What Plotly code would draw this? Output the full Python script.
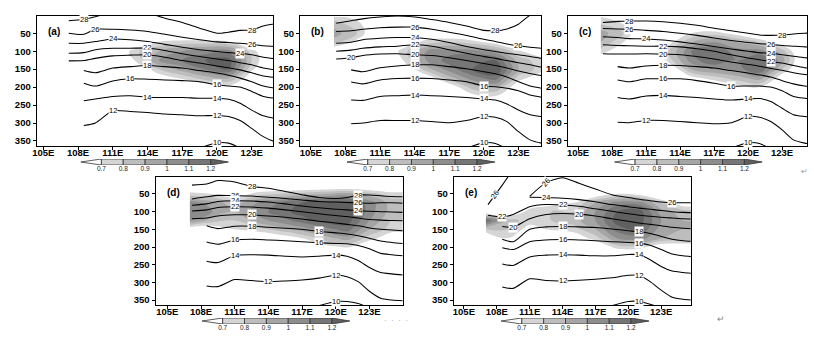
import plotly.graph_objects as go

W, H = 814, 342
FONT = "Liberation Sans"

# ---------------- data ----------------
LON = [107.2, 108.5, 109.5, 111, 112.5, 114, 115.5, 117, 118.5, 120, 121, 122, 123, 124, 125, 126]

X_TICKS = [105, 108, 111, 114, 117, 120, 123]
X_TICK_TEXT = ["105E", "108E", "111E", "114E", "117E", "120E", "123E"]
Y_TICKS = [50, 100, 150, 200, 250, 300, 350]
Y_TICK_TEXT = ["50", "100", "150", "200", "250", "300", "350"]

SHADE_LEVELS = [0.7, 0.8, 0.9, 1.0, 1.1, 1.2]
SHADE_LEVEL_TEXT = ["0.7", "0.8", "0.9", "1", "1.1", "1.2"]
SHADE_COLORS = ["#ffffff", "#d5d5d5", "#bdbdbd", "#a5a5a5", "#8d8d8d", "#767676", "#606060"]
SHADE_LON = [107, 109, 111, 113, 115, 117, 119, 121, 123, 125, 126]
SHADE_P = [5, 25, 50, 75, 100, 125, 150, 175, 200, 225, 250]
BLANK = [0.5, 0.5, 0.5, 0.5, 0.5, 0.5, 0.5, 0.5, 0.5, 0.5, 0.5]

# panel (a) isolines (hPa at LON)
A28 = [15, 12, 4, -8, -12, -6, 8, 20, 36, 50, 47, 42, 41, 30, 24, 20]
A26 = [50, 53, 39, 39, 41, 45, 53, 61, 68, 74, 76, 78, 81, 85, 87, 89]
A24 = [78, 78, 73, 66, 68, 73, 81, 89, 96, 101, 104, 106, 110, 117, 121, 124]
A22 = [106, 104, 96, 92, 92, 91, 98, 107, 115, 122, 126, 132, 138, 147, 152, 155]
A20 = [127, 126, 120, 113, 111, 110, 117, 126, 133, 141, 146, 152, 160, 169, 173, 176]
A18 = [None, 154, 160, 147, 143, 140, 143, 147, 154, 161, 167, 175, 185, 197, 203, 206]
A16 = [None, 189, 197, 183, 177, 178, 180, 182, 185, 194, 197, 200, 212, 226, 231, 234]
A14 = [None, 238, 233, 226, 224, 228, 229, 229, 231, 231, 234, 245, 264, 280, 287, 290]
A12 = [None, 307, 300, 266, 268, 271, 275, 277, 280, 279, 282, 293, 315, 338, 352, 358]
A10 = [None, None, None, None, None, None, None, None, 370, 355, 356, 370, None, None, None, None]

# panel (b)
B28 = [22, 15, 10, 5, 2, 5, 12, 20, 30, 42, 43, 38, 25, 0, -10, -15]
B26 = [45, 43, 39, 35, 33, 33, 39, 47, 56, 67, 73, 80, 85, 89, 92, 94]
B24 = [78, 75, 68, 64, 62, 62, 67, 76, 87, 96, 101, 106, 110, 115, 120, 123]
B22 = [100, 97, 92, 88, 86, 82, 86, 96, 106, 115, 120, 126, 132, 138, 145, 148]
B20 = [122, 118, 112, 108, 107, 110, 112, 118, 126, 134, 140, 147, 155, 162, 168, 171]
B18 = [None, 152, 157, 146, 141, 138, 138, 143, 149, 157, 163, 172, 185, 197, 203, 206]
B16 = [None, 186, 191, 180, 176, 175, 176, 180, 185, 197, 199, 203, 210, 222, 228, 231]
B14 = [None, 236, 237, 226, 224, 222, 224, 226, 229, 233, 236, 247, 264, 277, 282, 285]
B12 = [None, 302, 300, 293, 293, 293, 296, 299, 293, 282, 284, 296, 324, 347, 356, 360]
B10 = [None, None, None, None, None, None, None, None, 370, 355, 357, 372, None, None, None, None]

# panel (c)
C28 = [20, 17, 16, 16, 18, 22, 28, 36, 43, 50, 55, 56, 55, 52, 50, 49]
C26 = [37, 38, 39, 42, 45, 50, 56, 63, 70, 76, 79, 81, 84, 86, 88, 89]
C24 = [60, 62, 65, 66, 69, 74, 80, 87, 94, 100, 104, 106, 110, 114, 118, 121]
C22 = [82, 84, 85, 86, 86, 88, 93, 100, 110, 119, 124, 129, 133, 140, 146, 149]
C20 = [107, 108, 108, 107, 108, 110, 115, 122, 130, 137, 142, 148, 153, 160, 165, 168]
C18 = [None, 143, 147, 141, 139, 140, 143, 147, 154, 161, 166, 172, 182, 191, 197, 200]
C16 = [None, 180, 185, 177, 177, 177, 182, 189, 197, 197, 197, 200, 210, 226, 231, 234]
C14 = [None, 229, 233, 225, 223, 226, 229, 233, 236, 233, 232, 240, 259, 277, 282, 285]
C12 = [None, 298, 299, 293, 293, 296, 299, 302, 299, 282, 284, 296, 319, 347, 356, 360]
C10 = [None, None, None, None, None, None, None, None, 370, 355, 357, 372, None, None, None, None]

# panel (d)
D28 = [25, 22, 12, 16, 29, 34, 43, 52, 60, 63, 60, 53, 53, 55, 57, 58]
D26 = [64, 58, 54, 55, 56, 59, 63, 67, 71, 73, 74, 75, 76, 75, 75, 76]
D24 = [82, 78, 71, 69, 70, 73, 78, 84, 89, 93, 95, 97, 99, 100, 101, 102]
D22 = [98, 95, 88, 86, 87, 90, 95, 100, 106, 111, 114, 118, 122, 124, 125, 126]
D20 = [120, 118, 112, 109, 109, 112, 116, 121, 127, 132, 136, 140, 146, 150, 152, 154]
D18 = [None, 140, 148, 141, 141, 144, 147, 150, 156, 160, 163, 168, 175, 183, 187, 190]
D16 = [None, 186, 192, 180, 178, 180, 182, 185, 188, 190, 191, 196, 205, 218, 222, 225]
D14 = [None, 240, 244, 224, 222, 223, 226, 228, 226, 223, 226, 238, 258, 272, 276, 279]
D12 = [None, 310, 312, 292, 295, 298, 296, 293, 288, 280, 284, 298, 325, 345, 350, 352]
D10 = [None, None, None, None, None, None, None, None, 366, 354, 354, 360, 372, None, None, None]

# panel (e)
E26A = [80, 25, -20, None, None, None, None, None, None, None, None, None, None, None, None, None]
E26B = [None, None, None, 57, 18, 4, 20, 36, 52, 60, 65, 69, 73, 75, 75, 75]
E24 = [None, None, None, 59, 60, 62, 66, 72, 80, 86, 90, 93, 97, 100, 102, 103]
E22 = [110, 115, 108, 86, 80, 81, 85, 92, 99, 106, 110, 113, 116, 118, 120, 121]
E20 = [None, 142, 144, 120, 108, 105, 107, 112, 120, 127, 132, 136, 140, 144, 147, 149]
E18 = [None, 178, 185, 150, 143, 142, 143, 145, 149, 154, 157, 162, 170, 178, 182, 184]
E16 = [None, 202, 207, 185, 180, 179, 180, 182, 185, 187, 189, 195, 207, 220, 225, 228]
E14 = [None, 248, 252, 228, 223, 222, 223, 225, 225, 221, 222, 236, 255, 268, 272, 275]
E12 = [None, 313, 317, 290, 295, 296, 294, 291, 287, 280, 280, 298, 322, 342, 348, 350]
E10 = [None, None, None, None, None, None, None, None, 366, 354, 354, 362, 372, None, None, None]

LINES_A = [(28, A28), (26, A26), (24, A24), (22, A22), (20, A20), (18, A18), (16, A16), (14, A14), (12, A12), (10, A10)]
LINES_B = [(28, B28), (26, B26), (24, B24), (22, B22), (20, B20), (18, B18), (16, B16), (14, B14), (12, B12), (10, B10)]
LINES_C = [(28, C28), (26, C26), (24, C24), (22, C22), (20, C20), (18, C18), (16, C16), (14, C14), (12, C12), (10, C10)]
LINES_D = [(28, D28), (26, D26), (24, D24), (22, D22), (20, D20), (18, D18), (16, D16), (14, D14), (12, D12), (10, D10)]
LINES_E = [(26, E26A), (26, E26B), (24, E24), (22, E22), (20, E20), (18, E18), (16, E16), (14, E14), (12, E12), (10, E10)]

# labels: (text, line, index on LON, angle)
LABELS_A = [("28", A28, 1, 0), ("28", A28, 12, 0), ("26", A26, 2, 0), ("26", A26, 12, 0),
            ("24", A24, 3, 0), ("24", A24, 11, 0), ("22", A22, 5, 0), ("20", A20, 5, 0),
            ("18", A18, 5, 0), ("16", A16, 4, 0), ("16", A16, 9, 0), ("14", A14, 5, 0),
            ("14", A14, 9, 0), ("12", A12, 3, 0), ("12", A12, 9, 0), ("10", A10, 9, 0)]
LABELS_B = [("28", B28, 10, 0), ("26", B26, 5, 0), ("26", B26, 12, 0), ("24", B24, 5, 0),
            ("22", B22, 5, 0), ("20", B20, 1, 0), ("20", B20, 5, 0), ("18", B18, 5, 0),
            ("16", B16, 5, 0), ("16", B16, 9, 0), ("14", B14, 5, 0), ("14", B14, 9, 0),
            ("12", B12, 5, 0), ("12", B12, 9, 0), ("10", B10, 9, 0)]
LABELS_C = [("28", C28, 2, 0), ("28", C28, 12, 0), ("26", C26, 2, 0), ("26", C26, 11, 0),
            ("24", C24, 3, 0), ("24", C24, 11, 0), ("22", C22, 4, 0), ("22", C22, 11, 0),
            ("20", C20, 4, 0), ("18", C18, 4, 0), ("16", C16, 4, 0), ("16", C16, 8, 0),
            ("14", C14, 4, 0), ("14", C14, 9, 0), ("12", C12, 3, 0), ("12", C12, 9, 0),
            ("10", C10, 9, 0)]
LABELS_D = [("28", D28, 4, 0), ("28", D28, 11, 0), ("26", D26, 3, 0), ("26", D26, 11, 0),
            ("24", D24, 3, 0), ("24", D24, 11, 0), ("22", D22, 3, 0), ("20", D20, 4, 0),
            ("18", D18, 4, 0), ("18", D18, 8, 0), ("16", D16, 3, 0), ("16", D16, 8, 0),
            ("14", D14, 3, 0), ("14", D14, 9, 0), ("12", D12, 5, 0), ("12", D12, 9, 0),
            ("10", D10, 9, 0)]
LABELS_E = [("26", E26A, 0.5, -55), ("26", E26B, 4, -50), ("26", E26B, 13, 0), ("24", E24, 4, 0),
            ("22", E22, 1, 0), ("22", E22, 5, 0), ("20", E20, 2, 0), ("20", E20, 6, 0),
            ("18", E18, 5, 0), ("18", E18, 10, 0), ("16", E16, 5, 0), ("16", E16, 10, 0),
            ("14", E14, 5, 0), ("14", E14, 10, 0), ("12", E12, 5, 0), ("12", E12, 10, 0),
            ("10", E10, 10, 0)]

SHADE_A = [BLANK, BLANK, BLANK,
           [0.5, 0.5, 0.5, 0.5, 0.72, 0.75, 0.75, 0.72, 0.5, 0.5, 0.5],
           [0.5, 0.5, 0.5, 0.78, 0.9, 1.0, 1.05, 1.05, 0.75, 0.5, 0.5],
           [0.5, 0.5, 0.5, 0.72, 1.0, 1.1, 1.2, 1.25, 0.8, 0.5, 0.5],
           [0.5, 0.5, 0.5, 0.55, 0.8, 0.95, 1.1, 1.2, 0.72, 0.5, 0.5],
           [0.5, 0.5, 0.5, 0.5, 0.6, 0.72, 0.85, 0.9, 0.6, 0.5, 0.5],
           [0.5, 0.5, 0.5, 0.5, 0.5, 0.5, 0.6, 0.65, 0.5, 0.5, 0.5],
           BLANK, BLANK]
SHADE_B = [[0.75, 0.65, 0.5, 0.5, 0.5, 0.5, 0.5, 0.5, 0.5, 0.5, 0.5],
           [0.85, 0.75, 0.5, 0.5, 0.5, 0.5, 0.5, 0.5, 0.5, 0.5, 0.5],
           [0.95, 0.8, 0.5, 0.5, 0.55, 0.55, 0.5, 0.5, 0.5, 0.5, 0.5],
           [0.85, 0.65, 0.5, 0.6, 0.75, 0.8, 0.75, 0.65, 0.5, 0.5, 0.5],
           [0.55, 0.5, 0.5, 0.75, 1.0, 1.05, 1.05, 0.95, 0.72, 0.6, 0.55],
           [0.5, 0.5, 0.5, 0.7, 1.0, 1.15, 1.2, 1.2, 0.85, 0.75, 0.7],
           [0.5, 0.5, 0.5, 0.55, 0.85, 1.05, 1.2, 1.3, 0.9, 0.75, 0.7],
           [0.5, 0.5, 0.5, 0.5, 0.6, 0.85, 1.05, 1.15, 0.75, 0.6, 0.55],
           [0.5, 0.5, 0.5, 0.5, 0.5, 0.6, 0.85, 0.9, 0.6, 0.5, 0.5],
           [0.5, 0.5, 0.5, 0.5, 0.5, 0.5, 0.65, 0.7, 0.5, 0.5, 0.5],
           BLANK]
SHADE_C = [[0.7, 0.6, 0.5, 0.5, 0.5, 0.5, 0.5, 0.5, 0.5, 0.5, 0.5],
           [0.8, 0.7, 0.5, 0.5, 0.5, 0.5, 0.5, 0.5, 0.5, 0.5, 0.5],
           [0.95, 0.8, 0.5, 0.5, 0.7, 0.75, 0.65, 0.5, 0.5, 0.5, 0.5],
           [0.9, 0.7, 0.5, 0.65, 0.9, 1.0, 0.9, 0.8, 0.6, 0.5, 0.5],
           [0.75, 0.6, 0.5, 0.8, 1.1, 1.2, 1.05, 1.05, 0.85, 0.5, 0.5],
           [0.6, 0.5, 0.5, 0.75, 1.05, 1.2, 1.1, 1.2, 0.95, 0.5, 0.5],
           [0.5, 0.5, 0.5, 0.55, 0.9, 1.0, 1.05, 1.2, 0.8, 0.5, 0.5],
           [0.5, 0.5, 0.5, 0.5, 0.65, 0.75, 0.85, 0.95, 0.6, 0.5, 0.5],
           [0.5, 0.5, 0.5, 0.5, 0.5, 0.55, 0.65, 0.7, 0.5, 0.5, 0.5],
           BLANK, BLANK]
SHADE_D = [BLANK, BLANK,
           [0.75, 0.7, 0.6, 0.75, 0.8, 0.85, 0.9, 0.95, 0.85, 0.75, 0.75],
           [1.05, 0.95, 0.85, 1.0, 1.1, 1.2, 1.25, 1.25, 1.05, 0.85, 0.85],
           [1.1, 1.0, 0.9, 1.05, 1.15, 1.25, 1.3, 1.3, 1.05, 0.85, 0.85],
           [1.0, 0.85, 0.8, 0.95, 1.05, 1.15, 1.25, 1.25, 1.0, 0.8, 0.8],
           [0.6, 0.6, 0.7, 0.75, 0.85, 0.95, 1.05, 1.15, 0.9, 0.75, 0.75],
           [0.5, 0.5, 0.5, 0.55, 0.6, 0.7, 0.85, 0.95, 0.75, 0.6, 0.6],
           [0.5, 0.5, 0.5, 0.5, 0.5, 0.5, 0.65, 0.72, 0.55, 0.5, 0.5],
           BLANK, BLANK]
SHADE_E = [BLANK, BLANK,
           [0.5, 0.5, 0.5, 0.5, 0.5, 0.6, 0.7, 0.65, 0.5, 0.5, 0.5],
           [0.5, 0.5, 0.6, 0.65, 0.7, 0.9, 1.05, 1.05, 0.8, 0.6, 0.6],
           [0.6, 0.55, 0.75, 0.8, 0.8, 1.0, 1.2, 1.25, 0.95, 0.85, 0.85],
           [1.2, 0.85, 0.75, 0.8, 0.85, 1.0, 1.25, 1.25, 1.0, 0.9, 0.9],
           [0.8, 0.8, 0.65, 0.72, 0.75, 0.9, 1.15, 1.2, 0.95, 0.9, 0.9],
           [0.5, 0.7, 0.5, 0.5, 0.6, 0.75, 1.0, 1.05, 0.9, 0.85, 0.85],
           [0.5, 0.5, 0.5, 0.5, 0.5, 0.55, 0.75, 0.75, 0.6, 0.6, 0.6],
           BLANK, BLANK]

# ---------------- layout (pixel geometry) ----------------
P_RANGE = [364, 2]
CB_RANGE = [0.605, 1.282]
PANELS = [
    dict(tag="(a)", lines=LINES_A, labels=LABELS_A, shade=SHADE_A, left=32, right=270,
         lon=(104.44, 124.87), top=16, bottom=146, cb_mid=152, cb_top=159, cb_bottom=165),
    dict(tag="(b)", lines=LINES_B, labels=LABELS_B, shade=SHADE_B, left=297, right=539.5,
         lon=(104.08, 124.97), top=16, bottom=146, cb_mid=420, cb_top=159, cb_bottom=165),
    dict(tag="(c)", lines=LINES_C, labels=LABELS_C, shade=SHADE_C, left=566.5, right=807,
         lon=(104.12, 125.2), top=16, bottom=146, cb_mid=689, cb_top=159, cb_bottom=165),
    dict(tag="(d)", lines=LINES_D, labels=LABELS_D, shade=SHADE_D, left=151.7, right=400,
         lon=(103.97, 125.95), top=177, bottom=305, cb_mid=274, cb_top=318, cb_bottom=324),
    dict(tag="(e)", lines=LINES_E, labels=LABELS_E, shade=SHADE_E, left=451.7, right=690,
         lon=(104.09, 125.7), top=177, bottom=305, cb_mid=575, cb_top=318, cb_bottom=324),
]

fig = go.Figure()
layout = dict(width=W, height=H, margin=dict(l=0, r=0, t=0, b=0),
              paper_bgcolor="white", plot_bgcolor="white", showlegend=False)
annotations = []
colorscale = [[j / 6, c] for j, c in enumerate(SHADE_COLORS)]
tickfont = dict(family=FONT, size=9.5, color="black", weight="bold")

for k, P in enumerate(PANELS):
    i = k + 1
    xr = "x" if i == 1 else f"x{i}"
    yr = "y" if i == 1 else f"y{i}"
    xa = "xaxis" if i == 1 else f"xaxis{i}"
    ya = "yaxis" if i == 1 else f"yaxis{i}"
    layout[xa] = dict(domain=[P["left"] / W, P["right"] / W], range=list(P["lon"]), anchor=yr,
                      tickvals=X_TICKS, ticktext=X_TICK_TEXT, ticks="outside", ticklen=3,
                      tickwidth=1, tickcolor="black", showline=True, linecolor="black",
                      linewidth=1.4, mirror=True, showgrid=False, zeroline=False,
                      tickfont=tickfont, ticklabelstandoff=-6, fixedrange=True)
    layout[ya] = dict(domain=[1 - P["bottom"] / H, 1 - P["top"] / H], range=P_RANGE, anchor=xr,
                      tickvals=Y_TICKS, ticktext=Y_TICK_TEXT, ticks="outside", ticklen=3,
                      tickwidth=1, tickcolor="black", showline=True, linecolor="black",
                      linewidth=1.4, mirror=True, showgrid=False, zeroline=False,
                      tickfont=tickfont, fixedrange=True)

    # shading
    fig.add_trace(go.Contour(x=SHADE_LON, y=SHADE_P, z=P["shade"], xaxis=xr, yaxis=yr,
                             autocontour=False,
                             contours=dict(start=0.7, end=1.2, size=0.1, coloring="fill",
                                           showlines=False),
                             line=dict(width=0, smoothing=1.2), colorscale=colorscale,
                             showscale=False, hoverinfo="skip"))
    # isolines
    for lev, vals in P["lines"]:
        fig.add_trace(go.Scatter(x=LON, y=vals, xaxis=xr, yaxis=yr, mode="lines",
                                 line=dict(color="black", width=1.05, shape="spline", smoothing=0.7),
                                 connectgaps=False, hoverinfo="skip"))
    # labels
    for txt, vals, idx, ang in P["labels"]:
        if idx == int(idx):
            lx, ly = LON[int(idx)], vals[int(idx)]
        else:
            a, b = int(idx), int(idx) + 1
            lx, ly = (LON[a] + LON[b]) / 2, (vals[a] + vals[b]) / 2
        annotations.append(dict(x=lx, y=ly, xref=xr, yref=yr, text=txt, showarrow=False,
                                font=dict(family=FONT, size=7.5, color="black"),
                                bgcolor="white", borderpad=0, textangle=ang))
    # panel tag
    annotations.append(dict(x=(P["left"] + 9) / W, y=1 - (P["top"] + 15.5) / H, xref="paper",
                            yref="paper", xanchor="left", yanchor="middle", text=P["tag"],
                            showarrow=False,
                            font=dict(family=FONT, size=10, color="black", weight="bold")))

    # colorbar axis
    j = i + 5
    cxr, cyr = f"x{j}", f"y{j}"
    m = P["cb_mid"]
    layout[f"xaxis{j}"] = dict(domain=[(m - 75.9) / W, (m + 73) / W], range=CB_RANGE, anchor=cyr,
                               tickvals=SHADE_LEVELS, ticktext=SHADE_LEVEL_TEXT, ticks="",
                               showline=False, showgrid=False, zeroline=False,
                               tickfont=dict(family=FONT, size=6.5, color="#222"),
                               ticklabelstandoff=-2, fixedrange=True)
    layout[f"yaxis{j}"] = dict(domain=[1 - P["cb_bottom"] / H, 1 - P["cb_top"] / H], range=[0, 1],
                               anchor=cxr, visible=False, fixedrange=True)
    fig.add_trace(go.Scatter(x=[CB_RANGE[0], SHADE_LEVELS[0], SHADE_LEVELS[0], CB_RANGE[0]],
                             y=[0.5, 0, 1, 0.5], xaxis=cxr, yaxis=cyr, mode="lines",
                             fill="toself", fillcolor=SHADE_COLORS[0],
                             line=dict(color="#333", width=0.8), hoverinfo="skip"))
    for s in range(len(SHADE_LEVELS) - 1):
        x0, x1 = SHADE_LEVELS[s], SHADE_LEVELS[s + 1]
        fig.add_trace(go.Scatter(x=[x0, x1, x1, x0, x0], y=[0, 0, 1, 1, 0], xaxis=cxr, yaxis=cyr,
                                 mode="lines", fill="toself", fillcolor=SHADE_COLORS[s + 1],
                                 line=dict(color="#333", width=0.8), hoverinfo="skip"))
    fig.add_trace(go.Scatter(x=[SHADE_LEVELS[-1], CB_RANGE[1], SHADE_LEVELS[-1], SHADE_LEVELS[-1]],
                             y=[0, 0.5, 1, 0], xaxis=cxr, yaxis=cyr, mode="lines",
                             fill="toself", fillcolor=SHADE_COLORS[-1],
                             line=dict(color="#333", width=0.8), hoverinfo="skip"))

# stray document marks
annotations.append(dict(x=726 / W, y=1 - 326 / H, xref="paper", yref="paper", text="↵",
                        showarrow=False, font=dict(family=FONT, size=9, color="#888")))
annotations.append(dict(x=810 / W, y=1 - 171 / H, xref="paper", yref="paper", text="↵",
                        showarrow=False, font=dict(family=FONT, size=8, color="#999")))
annotations.append(dict(x=393 / W, y=1 - 327 / H, xref="paper", yref="paper", text="·  ·  ·  ·",
                        showarrow=False, font=dict(family=FONT, size=8, color="#999")))

layout["annotations"] = annotations
fig.update_layout(**layout)
fig.write_html("out.html")
